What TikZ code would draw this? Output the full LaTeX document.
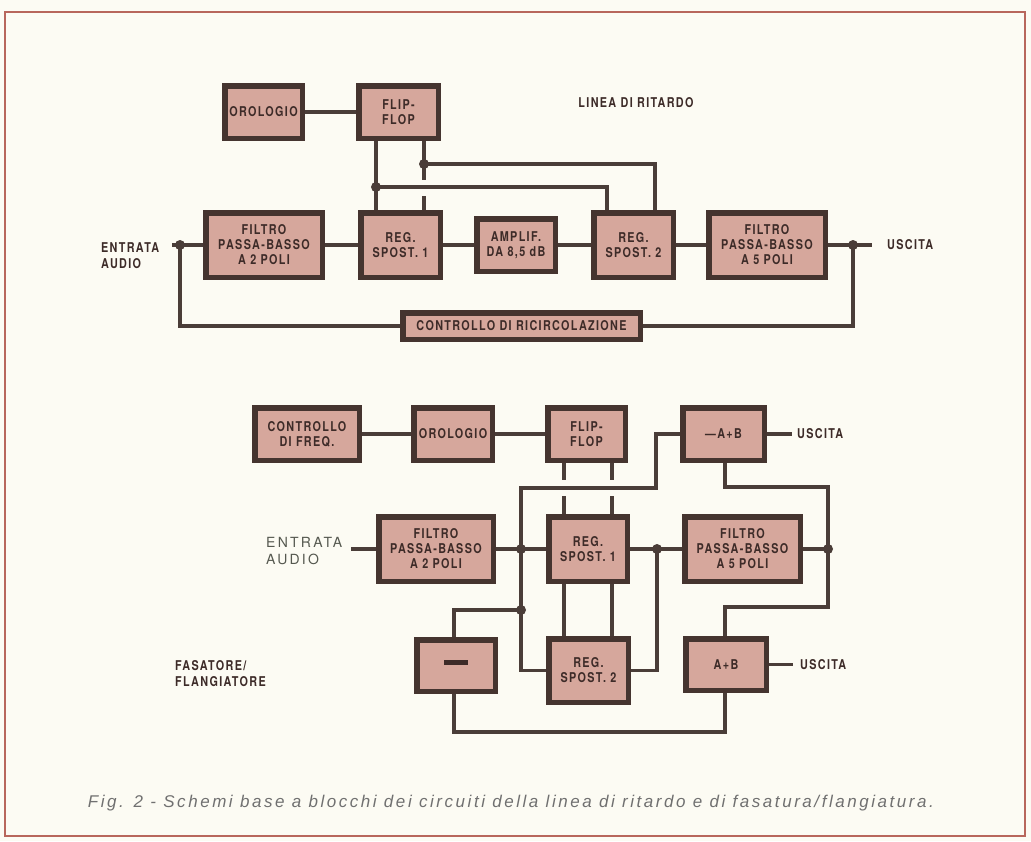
\documentclass[tikz,border=0pt]{standalone}
\usepackage{fontspec}
\setmainfont{TeX Gyre Heros}
\newfontfamily\cn[FakeStretch=0.8,LetterSpace=10]{TeX Gyre Heros}
\newfontfamily\widef[LetterSpace=16]{TeX Gyre Heros}
\newfontfamily\capf[LetterSpace=15]{Liberation Sans}
\definecolor{bordc}{HTML}{45342F}
\definecolor{wirec}{HTML}{4A3D38}
\definecolor{fillc}{HTML}{D6A79C}
\definecolor{txtc}{HTML}{3D2B28}
\definecolor{paper}{HTML}{FCFBF3}
\definecolor{framec}{HTML}{B8675C}
\definecolor{greyt}{HTML}{55584F}
\definecolor{capc}{HTML}{707070}
\tikzset{
  blk/.style={draw=bordc, line width=5.5pt, fill=fillc, inner sep=0pt, align=center, text=txtc,
    font=\cn\bfseries\fontsize{13.5}{15}\selectfont},
  wire/.style={draw=wirec, line width=3.2pt},
  jdot/.style={circle, fill=wirec, inner sep=0pt, minimum size=10pt},
  lbl/.style={text=txtc, font=\cn\bfseries\fontsize{13.5}{16}\selectfont, inner sep=0pt, align=left},
}
\newcommand\blk[6]{\node[blk, minimum width={#4-#2-5.5}, minimum height={#5-#3-5.5}] (#1) at ({(#2+#4)/2},{(#3+#5)/2}) {#6};}
\begin{document}
\begin{tikzpicture}[x=1pt,y=-1pt]
\fill[paper] (0,0) rectangle (1031,841);
\useasboundingbox (0,0) rectangle (1031,841);
\draw[framec, line width=2pt] (5,12) rectangle (1025,836);

% ---------------- top: linea di ritardo ----------------
\blk{oro1}{222}{83}{305}{141}{OROLOGIO}
\blk{ff1}{356}{83}{441}{141}{FLIP-\\FLOP}
\blk{fil1}{203}{210}{325}{280}{FILTRO\\PASSA-BASSO\\A 2 POLI}
\blk{reg1}{358}{210}{443}{280}{REG.\\SPOST. 1}
\blk{amp}{474}{216}{558}{274}{AMPLIF.\\DA 8,5 dB}
\blk{reg2}{591}{210}{676}{280}{REG.\\SPOST. 2}
\blk{fil5}{706}{210}{828}{280}{FILTRO\\PASSA-BASSO\\A 5 POLI}
\blk{ctl}{400}{310}{643}{342}{CONTROLLO DI RICIRCOLAZIONE}

\coordinate (jA) at (376,187);
\coordinate (jA2) at (607,187);
\coordinate (jB) at (424,164);
\coordinate (jBe) at (424,180);
\coordinate (jBs) at (424,196);
\coordinate (jB2) at (655,164);
\coordinate (jin) at (180,245);
\coordinate (in1) at (172,245);
\coordinate (jout) at (853,245);
\coordinate (out1) at (872,245);
\coordinate (fbL) at (180,326);
\coordinate (fbR) at (853,326);

\draw[wire] (oro1.east) -- (ff1.west);
\draw[wire] (ff1.south -| jA) -- (reg1.north -| jA);
\draw[wire] (jA) -- (jA2) -- (reg2.north -| jA2);
\draw[wire] (ff1.south -| jB) -- (jBe);
\draw[wire] (jBs) -- (reg1.north -| jB);
\draw[wire] (jB) -- (jB2) -- (reg2.north -| jB2);
\draw[wire] (in1) -- (fil1.west);
\draw[wire] (fil1.east) -- (reg1.west);
\draw[wire] (reg1.east) -- (amp.west);
\draw[wire] (amp.east) -- (reg2.west);
\draw[wire] (reg2.east) -- (fil5.west);
\draw[wire] (fil5.east) -- (out1);
\draw[wire] (jin) -- (fbL) -- (ctl.west);
\draw[wire] (ctl.east) -- (fbR) -- (jout);
\foreach \p in {jA,jB,jin,jout} \node[jdot] at (\p) {};

\node[lbl, anchor=west] (tin1) at (101,255.5) {ENTRATA\\AUDIO};
\node[lbl, anchor=west] (tout1) at (887,245) {USCITA};
\node[lbl] (title) at (636,103) {LINEA DI RITARDO};

% ---------------- bottom: fasatore / flangiatore ----------------
\blk{cf}{252}{405}{362}{463}{CONTROLLO\\DI FREQ.}
\blk{oro2}{411}{405}{495}{463}{OROLOGIO}
\blk{ff2}{545}{405}{628}{463}{FLIP-\\FLOP}
\blk{amb}{680}{405}{767}{463}{—A+B}
\blk{fil2}{376}{514}{496}{584}{FILTRO\\PASSA-BASSO\\A 2 POLI}
\blk{reg1b}{546}{514}{630}{584}{REG.\\SPOST. 1}
\blk{fil5b}{682}{514}{803}{584}{FILTRO\\PASSA-BASSO\\A 5 POLI}
\blk{minus}{414}{637}{498}{694}{\rule[0.9ex]{24pt}{5pt}}
\blk{reg2b}{546}{636}{631}{705}{REG.\\SPOST. 2}
\blk{apb}{683}{636}{769}{693}{A+B}

\coordinate (bin) at (351,549);
\coordinate (bj1) at (521,549);
\coordinate (bj2) at (521,610);
\coordinate (bjtop) at (521,488);
\coordinate (bk) at (656,488);
\coordinate (bj3) at (657,549);
\coordinate (bm) at (454,610);
\coordinate (bbot) at (454,732);
\coordinate (bq) at (725,732);
\coordinate (bq1) at (725,487);
\coordinate (br1) at (828,487);
\coordinate (bj4) at (828,549);
\coordinate (br2) at (828,607);
\coordinate (bq2) at (725,607);
\coordinate (bf1) at (564,480);
\coordinate (bf1s) at (564,496);
\coordinate (bf2) at (612,480);
\coordinate (bf2s) at (612,496);
\coordinate (bo1) at (792,434);
\coordinate (bo2) at (793,664.5);

\draw[wire] (cf.east) -- (oro2.west);
\draw[wire] (oro2.east) -- (ff2.west);
\draw[wire] (amb.east) -- (bo1);
\draw[wire] (amb.west) -- (amb.west -| bk) -- (bk) -- (bjtop) -- (reg2b.west -| bjtop) -- (reg2b.west);
\draw[wire] (bin) -- (fil2.west);
\draw[wire] (fil2.east) -- (reg1b.west);
\draw[wire] (reg1b.east) -- (fil5b.west);
\draw[wire] (fil5b.east) -- (bj4);
\draw[wire] (bj3) -- (reg2b.east -| bj3) -- (reg2b.east);
\draw[wire] (bj2) -- (bm) -- (minus.north -| bm);
\draw[wire] (minus.south -| bm) -- (bbot) -- (bq) -- (apb.south -| bq);
\draw[wire] (amb.south -| bq1) -- (bq1) -- (br1) -- (br2) -- (bq2) -- (apb.north -| bq2);
\draw[wire] (ff2.south -| bf1) -- (bf1);
\draw[wire] (bf1s) -- (reg1b.north -| bf1);
\draw[wire] (ff2.south -| bf2) -- (bf2);
\draw[wire] (bf2s) -- (reg1b.north -| bf2);
\draw[wire] (reg1b.south -| bf1) -- (reg2b.north -| bf1);
\draw[wire] (reg1b.south -| bf2) -- (reg2b.north -| bf2);
\draw[wire] (apb.east) -- (bo2);
\foreach \p in {bj1,bj2,bj3,bj4} \node[jdot] at (\p) {};

\node[text=greyt, font=\widef\fontsize{14}{17}\selectfont, inner sep=0pt, align=left, anchor=west] (tin2) at (266,551.5) {ENTRATA\\AUDIO};
\node[lbl, anchor=west] (tout2) at (797,434) {USCITA};
\node[lbl, anchor=west] (tout3) at (800,664.5) {USCITA};
\node[lbl, anchor=west] (fas) at (175,673.5) {FASATORE/\\FLANGIATORE};

\node[text=capc, font=\capf\itshape\fontsize{17}{19}\selectfont, inner sep=0pt] (cap) at (511,803)
  {Fig. 2 - Schemi base a blocchi dei circuiti della linea di ritardo e di fasatura/flangiatura.};
\end{tikzpicture}
\end{document}
